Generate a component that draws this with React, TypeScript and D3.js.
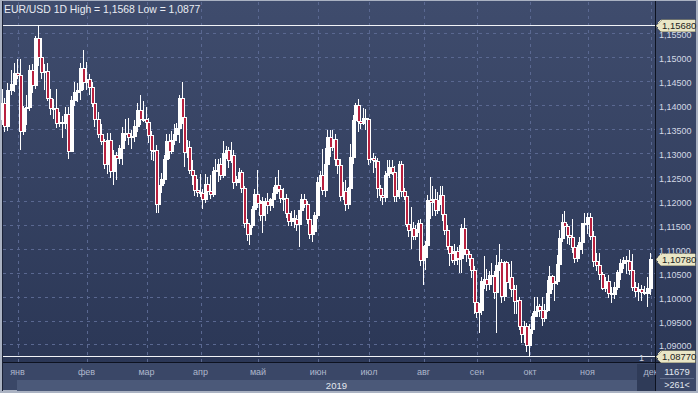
import * as d3 from 'd3'

type Row = [number, number, number, number, number]

const dec18: Row[] = [
  [24, 1.1370, 1.1434, 1.1360, 1.1405], [26, 1.1405, 1.1414, 1.1345, 1.1356], [27, 1.1356, 1.1446, 1.1348, 1.1431],
  [28, 1.1431, 1.1474, 1.1422, 1.1443], [31, 1.1443, 1.1487, 1.1430, 1.1467],
]
const jan: Row[] = [
  [1, 1.1467, 1.1497, 1.1457, 1.1462], [2, 1.1462, 1.1497, 1.1309, 1.1345], [3, 1.1345, 1.1397, 1.1340, 1.1393],
  [4, 1.1393, 1.1420, 1.1360, 1.1395], [7, 1.1395, 1.1483, 1.1390, 1.1474], [8, 1.1474, 1.1485, 1.1427, 1.1441],
  [9, 1.1441, 1.1545, 1.1435, 1.1540], [10, 1.1540, 1.1568, 1.1484, 1.1500], [11, 1.1500, 1.1539, 1.1456, 1.1468],
  [14, 1.1468, 1.1486, 1.1434, 1.1470], [15, 1.1470, 1.1488, 1.1410, 1.1414], [16, 1.1414, 1.1433, 1.1382, 1.1393],
  [17, 1.1393, 1.1413, 1.1373, 1.1393], [18, 1.1393, 1.1433, 1.1355, 1.1363], [21, 1.1363, 1.1385, 1.1356, 1.1364],
  [22, 1.1364, 1.1377, 1.1334, 1.1362], [23, 1.1362, 1.1396, 1.1352, 1.1382], [24, 1.1382, 1.1395, 1.1289, 1.1304],
  [25, 1.1304, 1.1418, 1.1303, 1.1410], [28, 1.1410, 1.1448, 1.1400, 1.1428], [29, 1.1428, 1.1446, 1.1409, 1.1431],
  [30, 1.1431, 1.1488, 1.1412, 1.1477], [31, 1.1477, 1.1514, 1.1433, 1.1449],
]
const feb: Row[] = [
  [1, 1.1449, 1.1489, 1.1433, 1.1455], [4, 1.1455, 1.1464, 1.1423, 1.1437], [5, 1.1437, 1.1447, 1.1397, 1.1405],
  [6, 1.1405, 1.1410, 1.1357, 1.1370], [7, 1.1370, 1.1386, 1.1334, 1.1340], [8, 1.1340, 1.1361, 1.1318, 1.1325],
  [11, 1.1325, 1.1330, 1.1268, 1.1277], [12, 1.1277, 1.1341, 1.1258, 1.1326], [13, 1.1326, 1.1342, 1.1250, 1.1262],
  [14, 1.1262, 1.1305, 1.1234, 1.1295], [15, 1.1295, 1.1302, 1.1246, 1.1290], [18, 1.1290, 1.1316, 1.1278, 1.1310],
  [19, 1.1310, 1.1354, 1.1276, 1.1342], [20, 1.1342, 1.1371, 1.1327, 1.1341], [21, 1.1341, 1.1372, 1.1318, 1.1334],
  [22, 1.1334, 1.1348, 1.1310, 1.1336], [25, 1.1336, 1.1368, 1.1325, 1.1356], [26, 1.1356, 1.1405, 1.1345, 1.1389],
  [27, 1.1389, 1.1420, 1.1361, 1.1370], [28, 1.1370, 1.1409, 1.1366, 1.1371],
]
const mar: Row[] = [
  [1, 1.1371, 1.1396, 1.1352, 1.1364], [4, 1.1364, 1.1373, 1.1323, 1.1337], [5, 1.1337, 1.1346, 1.1288, 1.1307],
  [6, 1.1307, 1.1322, 1.1285, 1.1306], [7, 1.1306, 1.1316, 1.1176, 1.1194], [8, 1.1194, 1.1245, 1.1177, 1.1233],
  [11, 1.1233, 1.1258, 1.1218, 1.1246], [12, 1.1246, 1.1295, 1.1238, 1.1287], [13, 1.1287, 1.1339, 1.1280, 1.1325],
  [14, 1.1325, 1.1339, 1.1290, 1.1304], [15, 1.1304, 1.1345, 1.1299, 1.1326], [18, 1.1326, 1.1361, 1.1318, 1.1340],
  [19, 1.1340, 1.1362, 1.1330, 1.1351], [20, 1.1351, 1.1420, 1.1322, 1.1415], [21, 1.1415, 1.1448, 1.1362, 1.1374],
  [22, 1.1374, 1.1381, 1.1273, 1.1301], [25, 1.1301, 1.1326, 1.1291, 1.1312], [26, 1.1312, 1.1325, 1.1257, 1.1265],
  [27, 1.1265, 1.1286, 1.1236, 1.1254], [28, 1.1254, 1.1256, 1.1212, 1.1222], [29, 1.1222, 1.1246, 1.1210, 1.1218],
]
const apr: Row[] = [
  [1, 1.1218, 1.1255, 1.1210, 1.1216], [2, 1.1216, 1.1224, 1.1184, 1.1204], [3, 1.1204, 1.1255, 1.1197, 1.1236],
  [4, 1.1236, 1.1250, 1.1211, 1.1221], [5, 1.1221, 1.1253, 1.1205, 1.1215], [8, 1.1215, 1.1270, 1.1210, 1.1262],
  [9, 1.1262, 1.1287, 1.1243, 1.1265], [10, 1.1265, 1.1288, 1.1241, 1.1277], [11, 1.1277, 1.1290, 1.1246, 1.1253],
  [12, 1.1253, 1.1324, 1.1250, 1.1299], [15, 1.1299, 1.1315, 1.1290, 1.1305], [16, 1.1305, 1.1312, 1.1270, 1.1285],
  [17, 1.1285, 1.1323, 1.1281, 1.1296], [18, 1.1296, 1.1307, 1.1226, 1.1240], [19, 1.1240, 1.1252, 1.1232, 1.1245],
  [22, 1.1245, 1.1268, 1.1240, 1.1260], [23, 1.1260, 1.1264, 1.1218, 1.1226], [24, 1.1226, 1.1230, 1.1145, 1.1153],
  [25, 1.1153, 1.1163, 1.1118, 1.1131], [26, 1.1131, 1.1151, 1.1110, 1.1149], [29, 1.1149, 1.1190, 1.1146, 1.1182],
  [30, 1.1182, 1.1225, 1.1170, 1.1214],
]
const may: Row[] = [
  [1, 1.1214, 1.1265, 1.1188, 1.1196], [2, 1.1196, 1.1202, 1.1159, 1.1171], [3, 1.1171, 1.1207, 1.1135, 1.1200],
  [6, 1.1200, 1.1205, 1.1160, 1.1199], [7, 1.1199, 1.1216, 1.1174, 1.1191], [8, 1.1191, 1.1206, 1.1180, 1.1203],
  [9, 1.1203, 1.1229, 1.1187, 1.1217], [10, 1.1217, 1.1250, 1.1207, 1.1233], [13, 1.1233, 1.1264, 1.1220, 1.1224],
  [14, 1.1224, 1.1230, 1.1198, 1.1206], [15, 1.1206, 1.1226, 1.1180, 1.1205], [16, 1.1205, 1.1215, 1.1166, 1.1174],
  [17, 1.1174, 1.1183, 1.1150, 1.1157], [20, 1.1157, 1.1178, 1.1150, 1.1164], [21, 1.1164, 1.1180, 1.1145, 1.1161],
  [22, 1.1161, 1.1170, 1.1140, 1.1151], [23, 1.1151, 1.1180, 1.1106, 1.1180], [24, 1.1180, 1.1215, 1.1171, 1.1204],
  [27, 1.1204, 1.1214, 1.1188, 1.1193], [28, 1.1193, 1.1200, 1.1154, 1.1162], [29, 1.1162, 1.1170, 1.1123, 1.1130],
  [30, 1.1130, 1.1149, 1.1116, 1.1136], [31, 1.1136, 1.1176, 1.1130, 1.1170],
]
const jun: Row[] = [
  [3, 1.1170, 1.1250, 1.1165, 1.1239], [4, 1.1239, 1.1263, 1.1230, 1.1253], [5, 1.1253, 1.1308, 1.1214, 1.1222],
  [6, 1.1222, 1.1310, 1.1210, 1.1276], [7, 1.1276, 1.1348, 1.1253, 1.1333], [10, 1.1333, 1.1347, 1.1293, 1.1312],
  [11, 1.1312, 1.1348, 1.1305, 1.1328], [12, 1.1328, 1.1340, 1.1275, 1.1288], [13, 1.1288, 1.1300, 1.1259, 1.1275],
  [14, 1.1275, 1.1288, 1.1202, 1.1210], [17, 1.1210, 1.1240, 1.1203, 1.1220], [18, 1.1220, 1.1243, 1.1181, 1.1193],
  [19, 1.1193, 1.1229, 1.1184, 1.1226], [20, 1.1226, 1.1318, 1.1223, 1.1292], [21, 1.1292, 1.1379, 1.1279, 1.1369],
  [24, 1.1369, 1.1404, 1.1361, 1.1399], [25, 1.1399, 1.1412, 1.1346, 1.1367], [26, 1.1367, 1.1383, 1.1352, 1.1362],
  [27, 1.1362, 1.1393, 1.1360, 1.1372], [28, 1.1372, 1.1392, 1.1350, 1.1370],
]
const jul: Row[] = [
  [1, 1.1370, 1.1373, 1.1276, 1.1287], [2, 1.1287, 1.1320, 1.1280, 1.1290], [3, 1.1290, 1.1300, 1.1261, 1.1285],
  [4, 1.1285, 1.1294, 1.1270, 1.1284], [5, 1.1284, 1.1290, 1.1207, 1.1226], [8, 1.1226, 1.1233, 1.1201, 1.1213],
  [9, 1.1213, 1.1220, 1.1193, 1.1207], [10, 1.1207, 1.1262, 1.1200, 1.1253], [11, 1.1253, 1.1286, 1.1238, 1.1259],
  [12, 1.1259, 1.1286, 1.1250, 1.1270], [15, 1.1270, 1.1285, 1.1255, 1.1261], [16, 1.1261, 1.1272, 1.1200, 1.1211],
  [17, 1.1211, 1.1230, 1.1200, 1.1223], [18, 1.1223, 1.1282, 1.1206, 1.1276], [19, 1.1276, 1.1282, 1.1210, 1.1220],
  [22, 1.1220, 1.1226, 1.1203, 1.1210], [23, 1.1210, 1.1212, 1.1148, 1.1151], [24, 1.1151, 1.1164, 1.1127, 1.1139],
  [25, 1.1139, 1.1187, 1.1101, 1.1144], [26, 1.1144, 1.1155, 1.1120, 1.1126], [29, 1.1126, 1.1150, 1.1120, 1.1141],
  [30, 1.1141, 1.1160, 1.1135, 1.1154], [31, 1.1154, 1.1162, 1.1065, 1.1076],
]
const aug: Row[] = [
  [1, 1.1076, 1.1106, 1.1027, 1.1082], [2, 1.1082, 1.1117, 1.1057, 1.1108], [5, 1.1108, 1.1212, 1.1093, 1.1202],
  [6, 1.1202, 1.1249, 1.1165, 1.1198], [7, 1.1198, 1.1231, 1.1170, 1.1203], [8, 1.1203, 1.1225, 1.1170, 1.1180],
  [9, 1.1180, 1.1218, 1.1175, 1.1201], [12, 1.1201, 1.1230, 1.1193, 1.1213], [13, 1.1213, 1.1230, 1.1160, 1.1172],
  [14, 1.1172, 1.1188, 1.1130, 1.1139], [15, 1.1139, 1.1150, 1.1100, 1.1106], [16, 1.1106, 1.1113, 1.1066, 1.1091],
  [19, 1.1091, 1.1106, 1.1072, 1.1077], [20, 1.1077, 1.1109, 1.1067, 1.1095], [21, 1.1095, 1.1104, 1.1069, 1.1080],
  [22, 1.1080, 1.1108, 1.1052, 1.1081], [23, 1.1081, 1.1152, 1.1051, 1.1143], [26, 1.1143, 1.1164, 1.1089, 1.1099],
  [27, 1.1099, 1.1114, 1.1075, 1.1089], [28, 1.1089, 1.1095, 1.1065, 1.1080], [29, 1.1080, 1.1084, 1.1040, 1.1056],
  [30, 1.1056, 1.1063, 1.0965, 1.0989],
]
const sep: Row[] = [
  [2, 1.0989, 1.0995, 1.0958, 1.0968], [3, 1.0968, 1.0986, 1.0926, 1.0971], [4, 1.0971, 1.1040, 1.0964, 1.1033],
  [5, 1.1033, 1.1085, 1.1018, 1.1036], [6, 1.1036, 1.1058, 1.1014, 1.1027], [9, 1.1027, 1.1054, 1.1015, 1.1045],
  [10, 1.1045, 1.1071, 1.1030, 1.1042], [11, 1.1042, 1.1053, 1.0998, 1.1010], [12, 1.1010, 1.1087, 1.0927, 1.1066],
  [13, 1.1066, 1.1110, 1.1055, 1.1072], [16, 1.1072, 1.1078, 1.0989, 1.1001], [17, 1.1001, 1.1075, 1.0992, 1.1073],
  [18, 1.1073, 1.1075, 1.1012, 1.1030], [19, 1.1030, 1.1069, 1.1018, 1.1041], [20, 1.1041, 1.1075, 1.1001, 1.1016],
  [23, 1.1016, 1.1025, 1.0966, 1.0990], [24, 1.0990, 1.1024, 1.0965, 1.0992], [25, 1.0992, 1.1000, 1.0933, 1.0939],
  [26, 1.0939, 1.0955, 1.0905, 1.0922], [27, 1.0922, 1.0948, 1.0905, 1.0939], [30, 1.0939, 1.0944, 1.0886, 1.0898],
]
const oct: Row[] = [
  [1, 1.0898, 1.0943, 1.0877, 1.0932], [2, 1.0932, 1.0965, 1.0925, 1.0959], [3, 1.0959, 1.0999, 1.0940, 1.0970],
  [4, 1.0970, 1.0999, 1.0960, 1.0980], [7, 1.0980, 1.0985, 1.0960, 1.0971], [8, 1.0971, 1.0999, 1.0940, 1.0956],
  [9, 1.0956, 1.0985, 1.0950, 1.0971], [10, 1.0971, 1.1034, 1.0970, 1.1007], [11, 1.1007, 1.1063, 1.0995, 1.1042],
  [14, 1.1042, 1.1046, 1.1015, 1.1029], [15, 1.1029, 1.1039, 1.0992, 1.1033], [16, 1.1033, 1.1086, 1.1026, 1.1069],
  [17, 1.1069, 1.1140, 1.1060, 1.1123], [18, 1.1123, 1.1172, 1.1116, 1.1156], [21, 1.1156, 1.1179, 1.1133, 1.1148],
  [22, 1.1148, 1.1152, 1.1112, 1.1129], [23, 1.1129, 1.1148, 1.1110, 1.1125], [24, 1.1125, 1.1163, 1.1093, 1.1104],
  [25, 1.1104, 1.1108, 1.1072, 1.1081], [28, 1.1081, 1.1107, 1.1075, 1.1099], [29, 1.1099, 1.1125, 1.1087, 1.1113],
  [30, 1.1113, 1.1154, 1.1092, 1.1154], [31, 1.1154, 1.1175, 1.1140, 1.1152],
]
const nov: Row[] = [
  [1, 1.1152, 1.1175, 1.1133, 1.1166], [4, 1.1166, 1.1175, 1.1120, 1.1127], [5, 1.1127, 1.1137, 1.1064, 1.1074],
  [6, 1.1074, 1.1092, 1.1055, 1.1065], [7, 1.1065, 1.1092, 1.1036, 1.1048], [8, 1.1048, 1.1051, 1.1015, 1.1018],
  [11, 1.1018, 1.1040, 1.1012, 1.1032], [12, 1.1032, 1.1046, 1.1000, 1.1008], [13, 1.1008, 1.1020, 1.0989, 1.1006],
  [14, 1.1006, 1.1030, 1.0997, 1.1021], [15, 1.1021, 1.1055, 1.1016, 1.1052], [18, 1.1052, 1.1078, 1.1037, 1.1071],
  [19, 1.1071, 1.1082, 1.1060, 1.1077], [20, 1.1077, 1.1085, 1.1050, 1.1075], [21, 1.1075, 1.1097, 1.1047, 1.1056],
  [22, 1.1056, 1.1089, 1.1014, 1.1020], [25, 1.1020, 1.1031, 1.1002, 1.1012], [26, 1.1012, 1.1029, 1.0993, 1.1016],
  [27, 1.1016, 1.1024, 1.0993, 1.1010], [28, 1.1010, 1.1022, 1.1005, 1.1008], [29, 1.1008, 1.1040, 1.0981, 1.1017],
]
const dec: Row[] = [[2, 1.1017, 1.1090, 1.1005, 1.1078]]

const months2019 = [jan, feb, mar, apr, may, jun, jul, aug, sep, oct, nov, dec]
const monthLabels = ['янв', 'фев', 'мар', 'апр', 'май', 'июн', 'июл', 'авг', 'сен', 'окт', 'ноя', 'дек']
const priceTicks = [1.09, 1.095, 1.1, 1.105, 1.11, 1.115, 1.12, 1.125, 1.13, 1.135, 1.14, 1.145, 1.15, 1.155]
const periodHigh = 1.1568
const periodLow = 1.0877
const lastPrice = 1.1078
const symbol = 'EUR/USD'
const timeframe = '1D'
const yearLabel = '2019'
const barsCount = '11679'
const visibleBars = '>261<'

// layout
const W = 698
const H = 393
const plotL = 3
const plotR = 655
const axisY = 363
const monthX = [17.5, 86.5, 146.5, 200.5, 258, 318, 369, 423.5, 477, 530, 587.5, 650.5]
const FONT = '"Liberation Sans", Arial, sans-serif'
const RED = '#b8213f'

const fmt = (v: number) => d3.format('.5f')(v).replace('.', ',')
const fmt4 = (v: number) => d3.format('.4f')(v).replace('.', ',')

const bars = [...dec18, ...months2019.flat()]
const monthStart: number[] = []
{
  let i = dec18.length
  months2019.forEach((m) => {
    monthStart.push(i)
    i += m.length
  })
}

const x = d3.scaleLinear().domain(monthStart).range(monthX)
const y = d3.scaleLinear().domain([periodHigh, periodLow]).range([24.5, 355.5])

// pixel geometry of every candle, shared by both drawing passes
const candles = bars.map((b, i) => {
  const [, o, h, l, c] = b
  const left = Math.round(x(i)) - 2
  const top = Math.round(y(Math.max(o, c)))
  const bot = Math.max(top + 2, Math.round(y(Math.min(o, c))) + 1)
  return { left, top, bot, hi: Math.round(y(h)), lo: Math.round(y(l)) + 1, down: c < o }
})

function PriceTag({ value }: { value: number }) {
  const py = Math.round(y(value)) + 0.5
  return (
    <g>
      <path
        d={`M${plotR + 1},${py} L${plotR + 6},${py - 6} H${W - 3} V${py + 6} H${plotR + 6} Z`}
        fill="#e9e6c6"
        stroke="#8d8a70"
        strokeWidth={0.6}
      />
      <text x={plotR + 7} y={py + 3.5} fontSize={9.5} fill="#1d1d1d" fontFamily={FONT}>
        {fmt(value)}
      </text>
    </g>
  )
}

export default function App() {
  return (
    <svg width={W} height={H} style={{ display: 'block', position: 'absolute', left: 0, top: 0 }} shapeRendering="crispEdges">
      <defs>
        <linearGradient id="bg" x1="0" y1="0" x2="0" y2="1">
          <stop offset="0" stopColor="#3f4c6d" />
          <stop offset="1" stopColor="#2b3756" />
        </linearGradient>
      </defs>
      <rect x={0} y={0} width={W} height={H} fill="#aab2c2" />
      <rect x={2} y={1} width={W - 4} height={axisY - 1} fill="url(#bg)" />
      {/* time axis */}
      <rect x={2} y={axisY} width={W - 4} height={H - axisY - 3} fill="#3a4767" />
      <rect x={17} y={380} width={620} height={11} fill="#4b5979" />
      <rect x={637} y={364} width={18} height={27} fill="#2f3b58" />
      <line x1={2} x2={W - 2} y1={axisY - 0.5} y2={axisY - 0.5} stroke="#0d1220" />
      <line x1={plotR + 0.5} x2={plotR + 0.5} y1={1} y2={H - 2} stroke="#0d1220" />
      <line x1={2.5} x2={2.5} y1={1} y2={H - 2} stroke="#1a2136" />

      {/* grid */}
      <g stroke="#5a6891" strokeDasharray="3,4" strokeWidth={1}>
        {priceTicks.map((t) => (
          <line key={t} x1={plotL} x2={plotR} y1={Math.round(y(t)) + 0.5} y2={Math.round(y(t)) + 0.5} />
        ))}
        {monthStart.map((i) => (
          <line key={i} x1={Math.round(x(i)) + 0.5} x2={Math.round(x(i)) + 0.5} y1={2} y2={axisY - 1} />
        ))}
      </g>

      {/* high / low lines */}
      <g stroke="#f2f4f8" strokeWidth={1}>
        <line x1={plotL} x2={plotR} y1={Math.round(y(periodHigh)) + 0.5} y2={Math.round(y(periodHigh)) + 0.5} />
        <line x1={plotL} x2={plotR} y1={Math.round(y(periodLow)) + 0.5} y2={Math.round(y(periodLow)) + 0.5} />
      </g>

      {/* candles: white outline, red core when closing lower */}
      <g fill="#ffffff">
        {candles.map((k, i) => (
          <g key={i}>
            <rect x={k.left + 1} y={k.hi} width={1} height={k.lo - k.hi} />
            <rect x={k.left} y={k.top} width={4} height={k.bot - k.top} />
          </g>
        ))}
      </g>
      <g fill={RED}>
        {candles.map((k, i) =>
          k.down && k.bot - k.top > 2 ? (
            <rect key={i} x={k.left + 1} y={k.top + 1} width={2} height={k.bot - k.top - 2} />
          ) : null,
        )}
      </g>

      {/* title */}
      <text x={4} y={13} fontSize={10.4} fill="#e9ecf3" fontFamily={FONT}>
        {`${symbol} ${timeframe} High = ${fmt4(periodHigh)} Low = ${fmt4(periodLow)}`}
      </text>
      <text x={639} y={361} fontSize={9} fill="#c8cfdd" fontFamily={FONT}>1</text>

      {/* price axis */}
      {priceTicks.map((t) => (
        <text key={t} x={659} y={Math.round(y(t)) + 5} fontSize={9} fill="#d3d9e5" fontFamily={FONT}>
          {fmt(t)}
        </text>
      ))}
      <PriceTag value={periodHigh} />
      <PriceTag value={lastPrice} />
      <PriceTag value={periodLow} />

      {/* time axis labels */}
      {monthLabels.map((m, i) => (
        <text key={m} x={x(monthStart[i])} y={375} fontSize={9} textAnchor="middle" fill="#aeb7cc" fontFamily={FONT}>
          {m}
        </text>
      ))}
      <rect x={plotR + 1} y={364} width={W - plotR - 3} height={27} fill="#3a4767" />
      <text x={347} y={389} fontSize={9.5} textAnchor="end" fill="#e3e7ef" fontFamily={FONT}>{yearLabel}</text>
      <line x1={660} x2={694} y1={378.5} y2={378.5} stroke="#5d6a88" />
      <text x={677} y={375} fontSize={9.5} textAnchor="middle" fill="#e3e7ef" fontFamily={FONT}>{barsCount}</text>
      <text x={677} y={388} fontSize={9} textAnchor="middle" fill="#e3e7ef" fontFamily={FONT}>{visibleBars}</text>
    </svg>
  )
}
